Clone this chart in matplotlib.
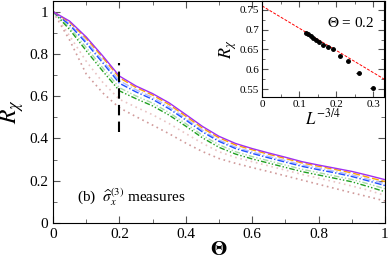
import matplotlib
matplotlib.use("Agg")
import matplotlib.pyplot as plt
from matplotlib.ticker import MultipleLocator

plt.rcParams['font.family'] = ['Liberation Serif', 'DejaVu Serif']
plt.rcParams['mathtext.fontset'] = 'stix'

theta = [0.00, 0.05, 0.10, 0.15, 0.20, 0.25, 0.30, 0.35, 0.40, 0.45, 0.50,
         0.55, 0.60, 0.65, 0.70, 0.75, 0.80, 0.85, 0.90, 0.95, 1.00]
r_violet = [1.000, 0.955, 0.880, 0.790, 0.695, 0.648, 0.612, 0.568, 0.513, 0.457, 0.410,
            0.376, 0.352, 0.331, 0.311, 0.290, 0.274, 0.259, 0.244, 0.225, 0.205]
r_orange = [1.000, 0.950, 0.873, 0.782, 0.687, 0.641, 0.605, 0.560, 0.505, 0.449, 0.403,
            0.369, 0.346, 0.325, 0.305, 0.284, 0.268, 0.253, 0.237, 0.216, 0.196]
r_ltblue = [1.000, 0.943, 0.860, 0.767, 0.673, 0.630, 0.594, 0.549, 0.495, 0.439, 0.393,
            0.359, 0.336, 0.315, 0.295, 0.275, 0.259, 0.244, 0.228, 0.207, 0.186]
r_blue = [1.000, 0.937, 0.851, 0.757, 0.661, 0.620, 0.585, 0.540, 0.487, 0.431, 0.386,
          0.352, 0.329, 0.308, 0.288, 0.268, 0.252, 0.237, 0.220, 0.199, 0.177]
r_ltgreen = [1.000, 0.925, 0.830, 0.734, 0.640, 0.601, 0.567, 0.522, 0.470, 0.415, 0.370,
             0.337, 0.314, 0.294, 0.274, 0.254, 0.238, 0.222, 0.206, 0.185, 0.162]
r_green = [1.000, 0.915, 0.815, 0.718, 0.625, 0.588, 0.554, 0.510, 0.458, 0.403, 0.358,
           0.326, 0.303, 0.283, 0.263, 0.243, 0.227, 0.211, 0.195, 0.172, 0.148]
r_ltpink = [1.000, 0.885, 0.765, 0.665, 0.585, 0.548, 0.512, 0.470, 0.423, 0.377, 0.337,
            0.310, 0.290, 0.270, 0.250, 0.230, 0.212, 0.194, 0.175, 0.155, 0.130]
r_pink = [1.000, 0.865, 0.705, 0.615, 0.545, 0.503, 0.463, 0.422, 0.378, 0.338, 0.305,
          0.282, 0.262, 0.243, 0.223, 0.203, 0.183, 0.163, 0.143, 0.124, 0.104]

# inset data
inv_L = [0.299, 0.261, 0.232, 0.210, 0.192, 0.178, 0.166, 0.155, 0.146, 0.138, 0.131, 0.125, 0.119]
r_inset = [0.553, 0.591, 0.620, 0.633, 0.650, 0.657, 0.662, 0.668, 0.674, 0.680, 0.685, 0.690, 0.692]
fit_x = [0.0, 0.33]
fit_y = [0.760, 0.575]

fig = plt.figure(figsize=(3.9, 2.62), dpi=100)
ax = fig.add_axes([0.136, 0.149, 0.851, 0.847])

series = [
    (r_pink, '#d09a9a', (0, (1, 2.2)), 1.2),
    (r_ltpink, '#e8c4c4', (0, (1, 2.2)), 1.2),
    (r_ltgreen, '#a8dca8', (0, (4, 1.5, 1, 1.5, 1, 1.5)), 1.0),
    (r_green, '#20a020', (0, (4, 1.5, 1, 1.5, 1, 1.5)), 1.0),
    (r_ltblue, '#b0b8ff', (0, (5, 1.5, 1, 1.5)), 1.0),
    (r_blue, '#2050ff', (0, (5, 1.5, 1, 1.5)), 1.0),
    (r_orange, '#ffa500', (0, (5, 2)), 1.0),
    (r_violet, '#a030f0', '-', 1.0),
]
for vals, col, ls, lw in series:
    ax.plot(theta, vals, color=col, linestyle=ls, lw=lw)

ax.plot([0.2, 0.2], [0.43, 0.755], color='black', lw=1.5, linestyle=(0, (5, 3)))

ax.set_xlim(0, 1)
ax.set_ylim(0, 1.05)
ax.xaxis.set_minor_locator(MultipleLocator(0.1))
ax.yaxis.set_minor_locator(MultipleLocator(0.1))
ax.set_yticks([0, 0.2, 0.4, 0.6, 0.8, 1.0])
ax.set_yticklabels(['0', '0.2', '0.4', '0.6', '0.8', '1'])
ax.set_xticks([0, 0.2, 0.4, 0.6, 0.8, 1.0])
ax.set_xticklabels(['0', '0.2', '0.4', '0.6', '0.8', '1'])
ax.tick_params(which='both', direction='in', top=True, right=True, labelsize=11)
ax.tick_params(which='major', length=5, color='#555555')
ax.tick_params(which='minor', length=3, color='#555555')
ax.set_xlabel(r'$\mathbf{\Theta}$', fontsize=15, labelpad=0)
ax.set_ylabel(r'$R_\chi$', fontsize=17, labelpad=2)
ax.text(0.072, 0.12, r'(b)  $\widehat{\sigma}_x^{(3)}$ measures', fontsize=11,
        va='center', ha='left')

ins = fig.add_axes([0.672, 0.63, 0.313, 0.367])
ins.plot(fit_x, fit_y, color='red', lw=0.7, linestyle=(0, (3, 1.5)))
ins.errorbar(inv_L, r_inset, xerr=0.006, fmt='o', color='black', ms=2.5, lw=0.8, capsize=0)
ins.set_xlim(0, 0.33)
ins.set_ylim(0.53, 0.773)
ins.xaxis.set_minor_locator(MultipleLocator(0.05))
ins.yaxis.set_minor_locator(MultipleLocator(0.025))
ins.set_xticks([0, 0.1, 0.2, 0.3])
ins.set_xticklabels(['0', '0.1', '0.2', '0.3'])
ins.set_yticks([0.55, 0.6, 0.65, 0.7, 0.75])
ins.set_yticklabels(['0.55', '0.6', '0.65', '0.7', '0.75'])
ins.tick_params(which='both', direction='in', top=True, right=True, labelsize=8, pad=2)
ins.tick_params(which='major', length=4, color='#555555')
ins.tick_params(which='minor', length=2, color='#555555')
ins.set_xlabel(r'$L^{-3/4}$', fontsize=12, labelpad=0)
ins.set_ylabel(r'$R_\chi$', fontsize=13, labelpad=1)
ins.text(0.24, 0.716, r'$\Theta$ = 0.2', fontsize=11, ha='center', va='center')

fig.savefig('out.png', dpi=100)
